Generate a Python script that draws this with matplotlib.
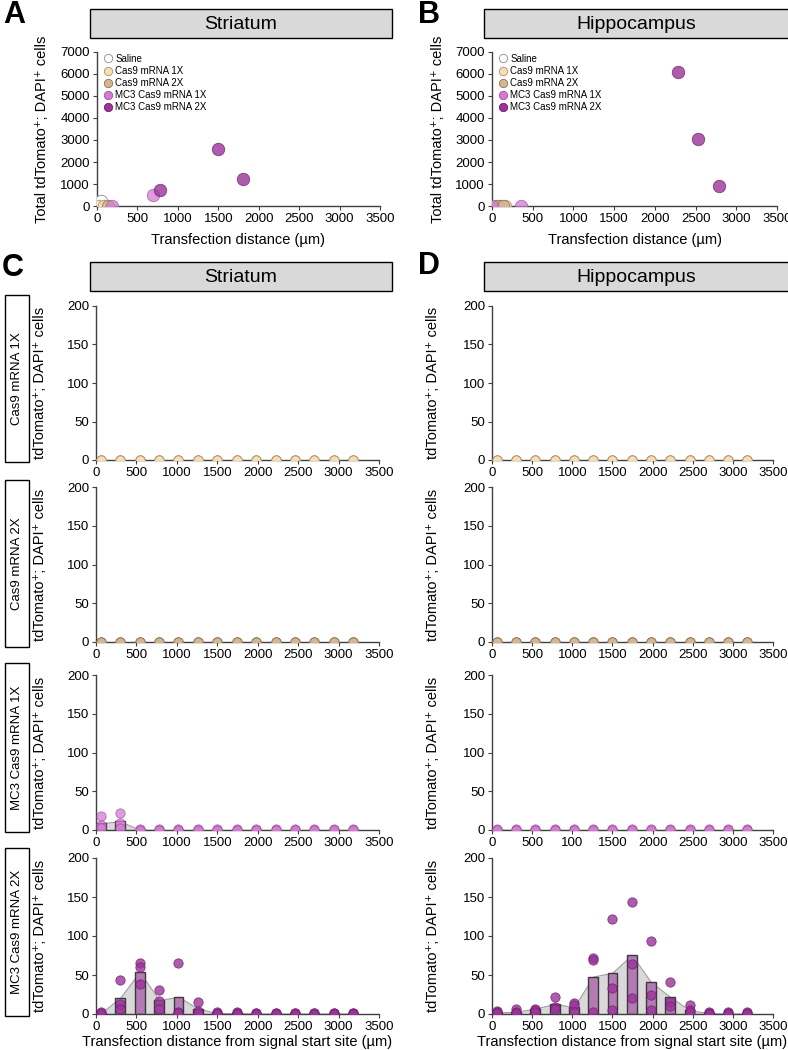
import matplotlib
matplotlib.use("Agg")
import matplotlib.pyplot as plt
from matplotlib.patches import Rectangle
from matplotlib.lines import Line2D
import numpy as np

plt.rcParams['font.family'] = ['Liberation Sans', 'DejaVu Sans']

# ---- data ----
groups = ["Saline", "Cas9 mRNA 1X", "Cas9 mRNA 2X", "MC3 Cas9 mRNA 1X", "MC3 Cas9 mRNA 2X"]
face = ['#FFFFFF', '#F9DDB3', '#D3B792', '#D47AD4', '#9B3399']
edge = ['#8C8C8C', '#A88F6E', '#8C7352', '#A04FA0', '#6E1F6E']
alpha = [1.0, 0.9, 0.9, 0.75, 0.8]

# panel A / B: total cells vs transfection distance
str_x = {"Saline": [50], "Cas9 mRNA 1X": [10, 90], "Cas9 mRNA 2X": [140],
         "MC3 Cas9 mRNA 1X": [690, 180], "MC3 Cas9 mRNA 2X": [780, 1500, 1800]}
str_y = {"Saline": [250], "Cas9 mRNA 1X": [0, 0], "Cas9 mRNA 2X": [0],
         "MC3 Cas9 mRNA 1X": [500, 0], "MC3 Cas9 mRNA 2X": [750, 2600, 1230]}
hip_x = {"Saline": [100], "Cas9 mRNA 1X": [40, 160], "Cas9 mRNA 2X": [70, 130],
         "MC3 Cas9 mRNA 1X": [0, 360], "MC3 Cas9 mRNA 2X": [2290, 2530, 2790]}
hip_y = {"Saline": [0], "Cas9 mRNA 1X": [0, 0], "Cas9 mRNA 2X": [0, 0],
         "MC3 Cas9 mRNA 1X": [0, 0], "MC3 Cas9 mRNA 2X": [6080, 3050, 900]}

# panel C / D: cells per distance bin
bins = [60, 300, 540, 780, 1020, 1260, 1500, 1740, 1980, 2220, 2460, 2700, 2940, 3180]
zeros = [[0, 0, 0]] * 14

str_1x_pts = [[18, 7, 2], [22, 9, 2]] + [[1, 0, 0]] * 12
str_1x_mean = [9, 11, 0.5, 0, 0, 0, 0, 0, 0, 0, 0, 0, 0, 0]
str_2x_pts = [[2, 0, 1], [43, 13, 6], [65, 60, 38], [31, 17, 6], [65, 2, 1],
              [16, 4, 1], [2, 1, 0], [2, 1, 0]] + [[1, 1, 0]] * 6
str_2x_mean = [1, 21, 54, 18, 22, 7, 1, 1, 0.5, 0.5, 0.5, 0.5, 0.5, 0.5]

hip_1x_pts = [[1, 0, 0]] * 14
hip_1x_mean = [0.5] + [0] * 13
hip_2x_pts = [[4, 2, 1], [6, 2, 1], [7, 5, 3], [22, 9, 7], [14, 12, 2], [72, 69, 2],
              [122, 33, 5], [143, 64, 21], [94, 24, 5], [41, 16, 10], [12, 5, 2],
              [2, 1, 0], [2, 1, 0], [2, 1, 0]]
hip_2x_mean = [2, 3, 7, 13, 9, 48, 53, 76, 41, 22, 5, 1, 0.5, 0.5]

row_names = ["Cas9 mRNA 1X", "Cas9 mRNA 2X", "MC3 Cas9 mRNA 1X", "MC3 Cas9 mRNA 2X"]
str_rows = [(zeros, None), (zeros, None), (str_1x_pts, str_1x_mean), (str_2x_pts, str_2x_mean)]
hip_rows = [(zeros, None), (zeros, None), (hip_1x_pts, hip_1x_mean), (hip_2x_pts, hip_2x_mean)]
bar_face = {"MC3 Cas9 mRNA 1X": '#D9B2D9', "MC3 Cas9 mRNA 2X": '#B47AB4'}

xticks = [0, 500, 1000, 1500, 2000, 2500, 3000, 3500]
xticklabels = ['0', '500', '1000', '1500', '2000', '2500', '3000', '3500']
xticklabels_typo = ['0', '500', '100', '1500', '2000', '2500', '3000', '3500']

# ---- layout ----
W, H = 788, 1050
fig = plt.figure(figsize=(W / 100, H / 100), dpi=100)


def add_ax(x0, top, x1, bot):
    return fig.add_axes([x0 / W, 1 - bot / H, (x1 - x0) / W, (bot - top) / H])


def style(ax):
    for s in ['top', 'right']:
        ax.spines[s].set_visible(False)
    for s in ['left', 'bottom']:
        ax.spines[s].set_color('#404040')
        ax.spines[s].set_linewidth(1)
    ax.tick_params(direction='out', length=3, width=0.8, colors='#404040',
                   labelcolor='black', labelsize=9.5, pad=2)
    ax.patch.set_alpha(0)


def box(x0, y0, x1, y1, fc):
    fig.patches.append(Rectangle((x0 / W, 1 - y1 / H), (x1 - x0) / W, (y1 - y0) / H,
                                 transform=fig.transFigure, fc=fc, ec='black', lw=1))


def ftext(x, y, s, **kw):
    fig.text(x / W, 1 - y / H, s, ha='center', va='center', **kw)


# letters and header boxes
for letter, (x, y) in zip("ABCD", [(14, 15), (429, 15), (13, 268), (429, 266)]):
    ftext(x, y, letter, fontsize=22, fontweight='bold')
for (x0, y0, x1, y1), t in zip([(90, 9, 392, 38), (484, 9, 790, 38),
                                (90, 262, 392, 291), (484, 262, 790, 291)],
                               ["Striatum", "Hippocampus", "Striatum", "Hippocampus"]):
    box(x0, y0, x1, y1, '#D9D9D9')
    ftext((x0 + min(x1, 788)) / 2, (y0 + y1) / 2 + 1, t, fontsize=14)

# panels A and B
for (x0, x1, ylx), xs, ys in [((97, 380, 42), str_x, str_y),
                              ((492, 777, 438), hip_x, hip_y)]:
    ax = add_ax(x0, 52, x1, 206)
    style(ax)
    for g, fc, ec, a in zip(groups, face, edge, alpha):
        ax.scatter(xs[g], ys[g], s=80, c=fc, edgecolors=ec, linewidths=0.6, alpha=a, zorder=3)
    ax.set_xlim(0, 3500)
    ax.set_ylim(0, 7000)
    ax.set_xticks(xticks)
    ax.set_yticks(range(0, 7001, 1000))
    handles = [Line2D([], [], marker='o', ls='', markersize=6, markerfacecolor=fc,
                      markeredgecolor=ec, markeredgewidth=0.6) for fc, ec in zip(face, edge)]
    ax.legend(handles, groups, loc='upper left', bbox_to_anchor=(0.0, 1.02), frameon=False,
              fontsize=7, handletextpad=0.2, labelspacing=0.22, borderaxespad=0.1,
              handlelength=1.2)
    ftext(ylx, 129, "Total tdTomato⁺; DAPI⁺ cells", rotation=90, fontsize=10.5)
    ftext((x0 + x1) / 2, 240, "Transfection distance (µm)", fontsize=10.5)

# panels C and D
row_px = [(306, 460), (487, 642), (675, 830), (858, 1014)]
row_box = [(295, 462), (480, 647), (663, 832), (848, 1016)]
for col, (x0, x1, ylx, rows) in enumerate([(96, 379, 40, str_rows), (492, 773, 433, hip_rows)]):
    for r, ((top, bot), name, (pts, mean)) in enumerate(zip(row_px, row_names, rows)):
        ax = add_ax(x0, top, x1, bot)
        style(ax)
        gi = groups.index(name)
        if mean is not None:
            ax.fill_between(bins, mean, 0, color='#D9D9D9', ec='#A0A0A0', lw=0.8, zorder=1)
            ax.bar(bins, mean, width=122, color=bar_face[name], edgecolor='#3A3A3A',
                   linewidth=1, zorder=2)
        for b, p in zip(bins, pts):
            ax.scatter([b] * len(p), p, s=45, c=face[gi], edgecolors=edge[gi],
                       linewidths=0.6, alpha=alpha[gi], zorder=3)
        ax.set_xlim(0, 3500)
        ax.set_ylim(0, 200)
        ax.set_yticks([0, 50, 100, 150, 200])
        ax.set_xticks(xticks)
        if col == 1 and r == 2:
            ax.set_xticklabels(xticklabels_typo)
        else:
            ax.set_xticklabels(xticklabels)
        ftext(ylx, (top + bot) / 2, "tdTomato⁺; DAPI⁺ cells", rotation=90, fontsize=10.5)
        if col == 0:
            by0, by1 = row_box[r]
            box(5, by0, 29, by1, 'white')
            ftext(17, (by0 + by1) / 2, name, rotation=90, fontsize=9.5)
    ftext((x0 + x1) / 2, 1042, "Transfection distance from signal start site (µm)", fontsize=10.5)

fig.savefig("out.png", dpi=100)
